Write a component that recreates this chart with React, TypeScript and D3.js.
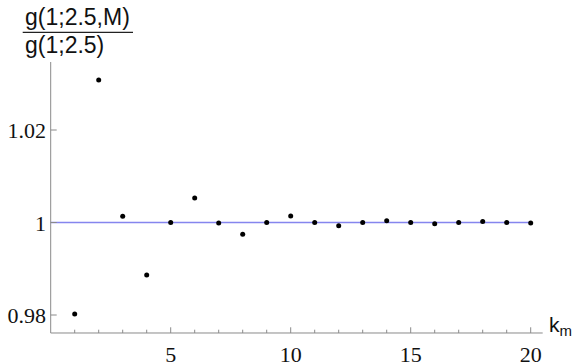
import React from 'react';
import * as d3 from 'd3';

// k_m values and the ratio g(1;2.5,M)/g(1;2.5)
const kValues = [1, 2, 3, 4, 5, 6, 7, 8, 9, 10, 11, 12, 13, 14, 15, 16, 17, 18, 19, 20];
const ratios = [
  0.9802, 1.0308, 1.00134, 0.98865, 1.0, 1.0053, 0.9999, 0.99745, 1.0, 1.0014,
  1.0, 0.9993, 1.0, 1.0004, 1.0, 0.99975, 1.0, 1.0002, 1.0, 0.9999,
];
const xMajorTicks = [5, 10, 15, 20];
const xMinorTicks = [1, 2, 3, 4, 6, 7, 8, 9, 11, 12, 13, 14, 16, 17, 18, 19];
const yTicks = [0.98, 1, 1.02];
const yTickLabels = ['0.98', '1', '1.02'];
const refLine = [0, 20];

const W = 574;
const H = 364;

const App = () => {
  const x = d3.scaleLinear().domain([0, 20]).range([50.7, 530.7]);
  const y = d3.scaleLinear().domain([0.98, 1.02]).range([315, 130]);

  const axisY = y(0.97611);
  const axisTop = y(1.0347);
  const axisRight = x(20.5);
  const axisColor = '#8a8a8a';
  const serif = '"Liberation Serif", "Times New Roman", serif';
  const sans = '"Liberation Sans", Arial, sans-serif';

  const line = d3.line<number>().x(d => x(d)).y(() => y(1));

  return (
    <svg width={W} height={H} style={{ position: 'absolute', left: 0, top: 0 }}>
      <rect width={W} height={H} fill="#fff" />

      {/* reference line at 1 */}
      <path d={line(refLine) || ''} stroke="#8585ee" strokeWidth={1.6} fill="none" />

      {/* axes */}
      <line x1={x(0)} x2={x(0)} y1={axisTop} y2={axisY} stroke={axisColor} strokeWidth={1} />
      <line x1={x(0)} x2={axisRight} y1={axisY} y2={axisY} stroke={axisColor} strokeWidth={1} />

      {/* x ticks */}
      {xMinorTicks.map(t => (
        <line key={'m' + t} x1={x(t)} x2={x(t)} y1={axisY} y2={axisY - 3.3} stroke={axisColor} />
      ))}
      {xMajorTicks.map(t => (
        <g key={'M' + t}>
          <line x1={x(t)} x2={x(t)} y1={axisY} y2={axisY - 5.7} stroke={axisColor} />
          <text x={x(t)} y={362} textAnchor="middle" fontFamily={serif} fontSize={22} fill="#111">
            {t}
          </text>
        </g>
      ))}

      {/* y ticks */}
      {yTicks.map((t, i) => (
        <g key={'y' + t}>
          <line x1={x(0)} x2={x(0) + 6} y1={y(t)} y2={y(t)} stroke={axisColor} />
          <text x={46} y={y(t) + 8} textAnchor="end" fontFamily={serif} fontSize={22} fill="#111">
            {yTickLabels[i]}
          </text>
        </g>
      ))}

      {/* points */}
      {kValues.map((k, i) => (
        <circle key={k} cx={x(k)} cy={y(ratios[i])} r={2.5} fill="#000" />
      ))}

      {/* y axis label as a fraction */}
      <text x={25} y={25} fontFamily={sans} fontSize={23} fill="#111">g(1;2.5,M)</text>
      <line x1={22.7} x2={133} y1={32.3} y2={32.3} stroke="#222" strokeWidth={1.2} />
      <text x={25} y={53} fontFamily={sans} fontSize={23} fill="#111">g(1;2.5)</text>

      {/* x axis label */}
      <text x={549} y={332} fontFamily={sans} fontSize={21} fill="#111">
        k<tspan fontSize={15} dy={4}>m</tspan>
      </text>
    </svg>
  );
};

export default App;
